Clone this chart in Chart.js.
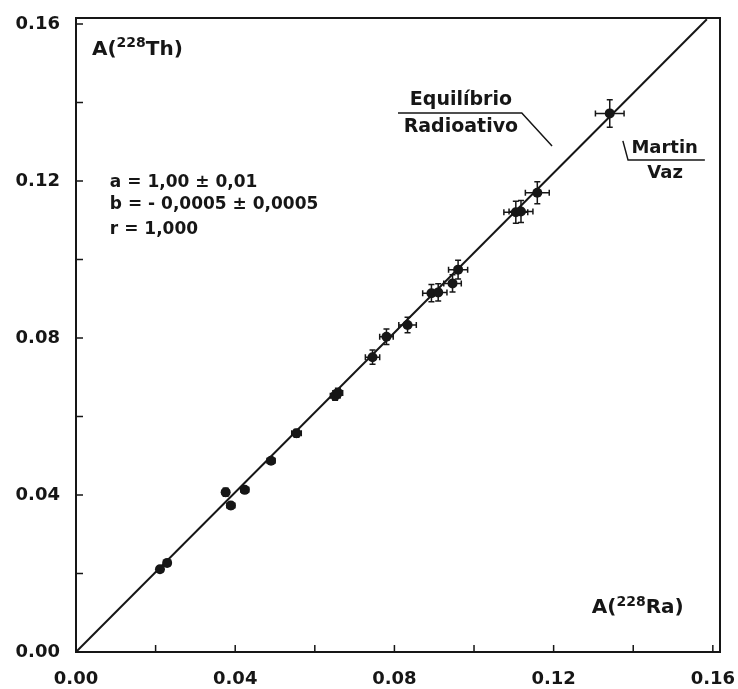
<!DOCTYPE html>
<html>
<head>
<meta charset="utf-8">
<script src="https://cdn.jsdelivr.net/npm/chart.js@4"></script>
<style>
  html, body { margin: 0; padding: 0; background: #fff; }
  #wrap { width: 738px; height: 689px; }
</style>
</head>
<body>
<div id="wrap"><canvas id="c" width="738" height="689"></canvas></div>
<script>
// A(228Ra) vs A(228Th)
var RA_VALUES = [0.0211, 0.0229, 0.0376, 0.0389, 0.0424, 0.0490, 0.0554, 0.0651, 0.0658,
                 0.0745, 0.0780, 0.0833, 0.0893, 0.0910, 0.0946, 0.0960, 0.1105, 0.1118,
                 0.1159, 0.1341];
var TH_VALUES = [0.0211, 0.0227, 0.0407, 0.0373, 0.0413, 0.0487, 0.0557, 0.0653, 0.0660,
                 0.0751, 0.0803, 0.0833, 0.0914, 0.0916, 0.0939, 0.0974, 0.1120, 0.1122,
                 0.1170, 0.1372];
var RA_ERRORS = [0.0008, 0.0008, 0.0008, 0.0010, 0.0010, 0.0010, 0.0012, 0.0012, 0.0012,
                 0.0018, 0.0017, 0.0022, 0.0022, 0.0022, 0.0022, 0.0024, 0.0030, 0.0030,
                 0.0030, 0.0036];
var TH_ERRORS = [0.0008, 0.0008, 0.0010, 0.0008, 0.0008, 0.0008, 0.0010, 0.0012, 0.0012,
                 0.0018, 0.0020, 0.0020, 0.0022, 0.0022, 0.0022, 0.0024, 0.0028, 0.0028,
                 0.0028, 0.0035];

// fitted / equilibrium line end points
var LINE_X = [0, 0.1585];
var LINE_Y = [0, 0.1612];

var TICK_VALUES = [0, 0.02, 0.04, 0.06, 0.08, 0.10, 0.12, 0.14, 0.16];
var LABEL_VALUES = [0, 0.04, 0.08, 0.12, 0.16];

var FIT_TEXT = ["a = 1,00 \u00b1 0,01", "b = - 0,0005 \u00b1 0,0005", "r = 1,000"];

var INK = "#161616";
var FONT = "DejaVu Sans";

function isLabeled(v) {
  return LABEL_VALUES.some(function (l) { return Math.abs(l - v) < 1e-6; });
}

var points = RA_VALUES.map(function (x, i) { return { x: x, y: TH_VALUES[i] }; });
var line = LINE_X.map(function (x, i) { return { x: x, y: LINE_Y[i] }; });

function setTicks(scale) {
  scale.ticks = TICK_VALUES.map(function (v) { return { value: v }; });
}

// labels may overflow the frame, as in the original
function noOverflow(scale) {
  scale.paddingLeft = 0;
  scale.paddingRight = 0;
  scale.paddingTop = 0;
  scale.paddingBottom = 0;
}

// text with a superscript part, e.g. A(228Th)
function supText(ctx, x, y, pre, sup, post, size) {
  ctx.textAlign = "left";
  ctx.textBaseline = "middle";
  ctx.font = "bold " + size + "px " + FONT;
  ctx.fillText(pre, x, y);
  x += ctx.measureText(pre).width;
  ctx.font = "bold " + Math.round(size * 0.68) + "px " + FONT;
  ctx.fillText(sup, x, y - size * 0.3);
  x += ctx.measureText(sup).width;
  ctx.font = "bold " + size + "px " + FONT;
  ctx.fillText(post, x, y);
}

var decorations = {
  id: "decorations",
  beforeDatasetsDraw: function (chart) {
    var ctx = chart.ctx, xs = chart.scales.x, ys = chart.scales.y;
    ctx.save();
    ctx.strokeStyle = INK;
    ctx.lineWidth = 1.5;
    var cap = 3;
    RA_VALUES.forEach(function (xv, i) {
      var yv = TH_VALUES[i];
      var px = xs.getPixelForValue(xv), py = ys.getPixelForValue(yv);
      var x1 = xs.getPixelForValue(xv - RA_ERRORS[i]), x2 = xs.getPixelForValue(xv + RA_ERRORS[i]);
      var y1 = ys.getPixelForValue(yv - TH_ERRORS[i]), y2 = ys.getPixelForValue(yv + TH_ERRORS[i]);
      ctx.beginPath();
      ctx.moveTo(x1, py); ctx.lineTo(x2, py);
      ctx.moveTo(x1, py - cap); ctx.lineTo(x1, py + cap);
      ctx.moveTo(x2, py - cap); ctx.lineTo(x2, py + cap);
      ctx.moveTo(px, y1); ctx.lineTo(px, y2);
      ctx.moveTo(px - cap, y1); ctx.lineTo(px + cap, y1);
      ctx.moveTo(px - cap, y2); ctx.lineTo(px + cap, y2);
      ctx.stroke();
    });
    ctx.restore();
  },
  afterDraw: function (chart) {
    var ctx = chart.ctx, a = chart.chartArea, xs = chart.scales.x, ys = chart.scales.y;
    ctx.save();
    ctx.strokeStyle = INK;
    ctx.fillStyle = INK;

    // frame
    ctx.lineWidth = 2;
    ctx.strokeRect(a.left, a.top, a.right - a.left, a.bottom - a.top);

    // inward tick marks
    ctx.lineWidth = 1.5;
    ctx.beginPath();
    TICK_VALUES.forEach(function (v) {
      var px = xs.getPixelForValue(v);
      ctx.moveTo(px, a.bottom); ctx.lineTo(px, a.bottom - 7);
      var py = ys.getPixelForValue(v);
      ctx.moveTo(a.left, py); ctx.lineTo(a.left + 7, py);
    });
    ctx.stroke();

    function X(v) { return xs.getPixelForValue(v); }
    function Y(v) { return ys.getPixelForValue(v); }

    // axis titles inside the frame
    supText(ctx, X(0.0040), Y(0.1534), "A(", "228", "Th)", 20);
    supText(ctx, X(0.1296), Y(0.0112), "A(", "228", "Ra)", 20);

    // regression results
    ctx.font = "bold 17px " + FONT;
    ctx.textAlign = "left";
    ctx.textBaseline = "middle";
    var fy = [0.1197, 0.1139, 0.1075];
    FIT_TEXT.forEach(function (t, i) { ctx.fillText(t, X(0.0085), Y(fy[i])); });

    // labels with leader lines
    ctx.textAlign = "center";
    ctx.font = "bold 19px " + FONT;
    ctx.fillText("Equil\u00edbrio", X(0.0967), Y(0.1406));
    ctx.fillText("Radioativo", X(0.0967), Y(0.1338));
    ctx.font = "bold 18px " + FONT;
    ctx.fillText("Martin", X(0.1479), Y(0.1284));
    ctx.fillText("Vaz", X(0.1480), Y(0.1220));

    ctx.lineWidth = 1.5;
    ctx.beginPath();
    ctx.moveTo(X(0.0809), Y(0.1373));
    ctx.lineTo(X(0.1120), Y(0.1373));
    ctx.lineTo(X(0.1196), Y(0.1289));
    ctx.moveTo(X(0.1374), Y(0.1302));
    ctx.lineTo(X(0.1387), Y(0.1253));
    ctx.lineTo(X(0.1580), Y(0.1253));
    ctx.stroke();

    ctx.restore();
  }
};

new Chart(document.getElementById("c"), {
  type: "scatter",
  data: {
    datasets: [
      {
        data: points,
        backgroundColor: INK,
        borderWidth: 0,
        pointRadius: 5,
        pointHoverRadius: 5
      },
      {
        type: "line",
        data: line,
        borderColor: INK,
        borderWidth: 2,
        pointRadius: 0,
        fill: false,
        tension: 0
      }
    ]
  },
  options: {
    responsive: false,
    animation: false,
    devicePixelRatio: 1,
    layout: { padding: { top: 18, right: 18, left: 0, bottom: 0 } },
    plugins: { legend: { display: false }, tooltip: { enabled: false } },
    scales: {
      x: {
        type: "linear",
        min: 0,
        max: 0.1618,
        afterBuildTicks: setTicks,
        afterFit: function (s) { s.height = 37; noOverflow(s); },
        grid: { display: false, drawTicks: false },
        border: { display: false },
        ticks: {
          padding: 17,
          color: INK,
          maxRotation: 0,
          autoSkip: false,
          font: { family: FONT, size: 18, weight: "bold" },
          callback: function (v) { return isLabeled(v) ? v.toFixed(2) : ""; }
        }
      },
      y: {
        type: "linear",
        min: 0,
        max: 0.1615,
        afterBuildTicks: setTicks,
        afterFit: function (s) { s.width = 76; noOverflow(s); },
        grid: { display: false, drawTicks: false },
        border: { display: false },
        ticks: {
          padding: 16,
          color: INK,
          autoSkip: false,
          font: { family: FONT, size: 18, weight: "bold" },
          callback: function (v) { return isLabeled(v) ? v.toFixed(2) : ""; }
        }
      }
    }
  },
  plugins: [decorations]
});
</script>
</body>
</html>
